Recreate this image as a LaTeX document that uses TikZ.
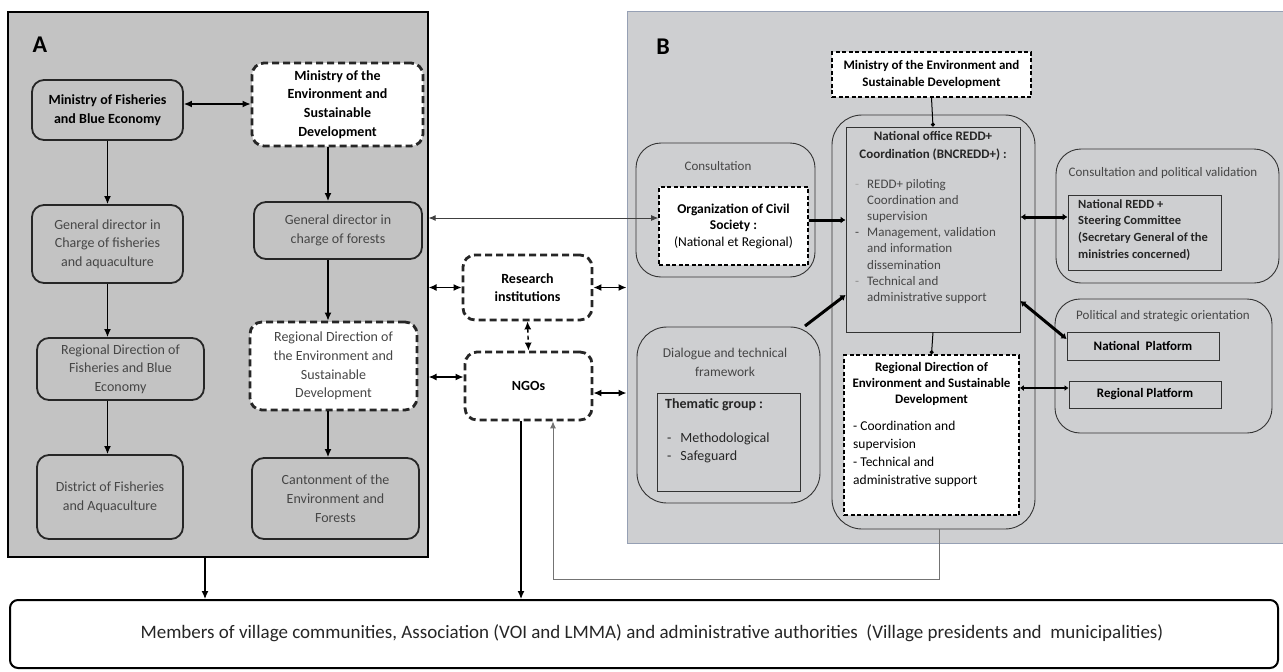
\documentclass[tikz,border=0pt]{standalone}
\usepackage{fontspec}
\setmainfont{Carlito}
\usetikzlibrary{arrows.meta}
\definecolor{cA}{RGB}{195,195,195}
\definecolor{cB}{RGB}{206,207,209}
\definecolor{tg}{RGB}{70,70,70}
\definecolor{edgeB}{RGB}{150,160,180}
\begin{document}
\begin{tikzpicture}[x=1pt,y=-1pt,
  sz/.style 2 args={minimum width=#1pt, minimum height=#2pt, inner sep=2pt},
  panelA/.style={draw=black, line width=1.2pt, fill=cA},
  panelB/.style={draw=edgeB, line width=1pt, fill=cB},
  abox/.style={draw=black!85, line width=1.8pt, rounded corners=12pt, fill=cA, align=center, text=tg, font=\fontsize{14}{18.7}\selectfont},
  aboxb/.style={abox, text=black, font=\fontsize{14}{18.7}\selectfont\bfseries},
  adash/.style={abox, fill=white, dash pattern=on 7pt off 4pt, line width=2.8pt, text=black, font=\fontsize{14}{18.7}\selectfont\bfseries},
  bround/.style={draw=black!80, line width=0.9pt, rounded corners=25pt, fill=cB},
  brect/.style={draw=black!80, line width=0.9pt, fill=cB, align=center, font=\fontsize{13}{16}\selectfont\bfseries},
  bdash/.style={draw=black, line width=1.6pt, dash pattern=on 4pt off 2.5pt, fill=white, align=center},
  lbl/.style={text=tg, align=center, inner sep=0pt},
  arr/.style={-{Latex[length=8pt,width=7pt]}, line width=1.4pt},
  darr/.style={{Latex[length=8pt,width=7pt]}-{Latex[length=8pt,width=7pt]}, line width=1.4pt},
  thdarr/.style={{Latex[length=5pt,width=7pt]}-{Latex[length=5pt,width=7pt]}, line width=3pt},
  tharr/.style={-{Latex[length=5pt,width=7pt]}, line width=3pt},
  dotarr/.style={-{Circle[length=4pt]}, line width=1pt},
  thinarr/.style={-{Latex[length=7pt,width=6pt]}, line width=0.9pt},
]
\useasboundingbox (0,0) rectangle (1283,672);
\fill[white] (0,0) rectangle (1283,672);

% panels
\node[panelA, sz={420}{545}] (pA) at (218,284.5) {};
\node[panelB, sz={656}{532}] (pB) at (955,277) {};
\node[font=\fontsize{24}{24}\selectfont\bfseries, inner sep=0pt] (lA) at (40,45) {A};
\node[font=\fontsize{24}{24}\selectfont\bfseries, inner sep=0pt] (lB) at (663,47) {B};

% panel A
\node[aboxb, sz={151}{60}] (mfb) at (107.5,110) {Ministry of Fisheries\\and Blue Economy};
\node[adash, sz={171}{83}] (mea) at (337.5,104.5) {Ministry of the\\Environment and\\Sustainable\\Development};
\node[abox, sz={151}{78}] (gd1) at (107.5,244) {General director in\\Charge of fisheries\\and aquaculture};
\node[abox, sz={168}{57}] (gdf) at (338,230.5) {General director in\\charge of forests};
\node[abox, sz={167}{62}] (rdf) at (120.5,369) {Regional Direction of\\Fisheries and Blue\\Economy};
\node[abox, sz={146}{84}] (dfa) at (110,497) {District of Fisheries\\and Aquaculture};
\node[adash, sz={167}{88}, font=\fontsize{14}{18.7}\selectfont, text=tg] (rde) at (333.5,366) {Regional Direction of\\the Environment and\\Sustainable\\Development};
\node[abox, sz={167}{81}] (cef) at (335.5,498.5) {Cantonment of the\\Environment and\\Forests};

% middle
\node[adash, sz={129}{65}] (res) at (527.5,287.5) {Research\\institutions};
\node[adash, sz={127}{68}] (ngo) at (528.5,386) {NGOs};

% bottom
\node[draw=black, line width=2pt, rounded corners=8pt, fill=white, sz={1268}{68}] (bot) at (644,634) {};
\node[inner sep=0pt, font=\fontsize{19}{22}\selectfont, text=black!85] (botT) at (652,633) {Members of village communities, Association (VOI and LMMA) and administrative authorities\ \ (Village presidents and\ \ municipalities)};

% panel B containers
\node[bround, sz={203}{414}, rounded corners=30pt] (oc) at (933.5,322) {};
\node[bround, sz={179}{134}] (cons) at (725.5,210) {};
\node[bround, sz={183}{176}, rounded corners=30pt] (dial) at (728.5,415) {};
\node[bround, sz={223}{134}] (cpv) at (1167.5,216) {};
\node[bround, sz={217}{134}] (pso) at (1163.5,366) {};

\node[bdash, sz={199}{45}, font=\fontsize{13}{17.5}\selectfont\bfseries] (mesB) at (931.5,74.5) {Ministry of the Environment and\\Sustainable Development};
\node[brect, sz={174}{205}] (no) at (933,229.5) {};
\node[bdash, sz={175}{160}] (rdB) at (931.5,435) {};
\node[bdash, sz={149}{78}, font=\fontsize{13.5}{16.5}\selectfont] (ocs) at (733.5,226) {\textbf{Organization of Civil}\\\textbf{Society :}\\(National et Regional)};
\node[brect, sz={143}{98}] (them) at (728.5,442) {};
\node[brect, sz={153}{75}] (nsc) at (1144.5,232.5) {};
\node[brect, sz={152}{28}] (np) at (1143,346) {National\ \ Platform};
\node[brect, sz={152}{27}] (rp) at (1145,394.5) {Regional Platform};

% panel B texts
\node[lbl, font=\fontsize{13}{16}\selectfont] (consL) at (718,166) {Consultation};
\node[lbl, font=\fontsize{13.5}{19}\selectfont] (dialL) at (725,362) {Dialogue and technical\\framework};
\node[lbl, font=\fontsize{13}{16}\selectfont] (cpvL) at (1163,173) {Consultation and political validation};
\node[lbl, font=\fontsize{13}{16}\selectfont] (psoL) at (1163,316) {Political and strategic orientation};

\node[lbl, text=black!85, font=\fontsize{13}{17.5}\selectfont\bfseries] (noT) at (933,146) {National office REDD+\\Coordination (BNCREDD+) :};
\node[lbl, anchor=base west, font=\fontsize{13}{16.2}\selectfont] (noL) at (855,188) {\begin{tabular}[t]{@{}l@{\hspace{8pt}}l@{}}
{\color{black!35}-} & REDD+ piloting\\
 & Coordination and\\
 & supervision\\
- & Management, validation\\
 & and information\\
 & dissemination\\
{\color{black!45}-} & Technical and\\
 & administrative support
\end{tabular}};

\node[lbl, text=black, font=\fontsize{13}{16}\selectfont\bfseries] (rdBT) at (931.5,384) {Regional Direction of\\Environment and Sustainable\\Development};
\node[lbl, text=black, anchor=base west, font=\fontsize{13.5}{18}\selectfont] (rdBL) at (853,430) {\begin{tabular}[t]{@{}l@{}}
- Coordination and\\
supervision\\
- Technical and\\
administrative support
\end{tabular}};

\node[lbl, text=black!85, anchor=base west, font=\fontsize{14}{18}\selectfont\bfseries] (themT) at (665,408) {Thematic group :};
\node[lbl, text=black!85, anchor=base west, font=\fontsize{14}{18}\selectfont] (themL) at (667,442) {\begin{tabular}[t]{@{}l@{\hspace{9pt}}l@{}}
- & Methodological\\
- & Safeguard
\end{tabular}};

\node[lbl, text=black!85, anchor=base west, font=\fontsize{12.5}{16.7}\selectfont\bfseries] (nscL) at (1078,208) {\begin{tabular}[t]{@{}l@{}}
National REDD +\\
Steering Committee\\
(Secretary General of the\\
ministries concerned)
\end{tabular}};

% coordinates
\coordinate (k1) at (0,104);
\coordinate (kx) at (328,0);
\coordinate (k2) at (0,377);
\coordinate (k3) at (0,393);
\coordinate (k4) at (0,218);
\coordinate (k5) at (205,0);
\coordinate (k6) at (521,0);
\coordinate (c1) at (939,579);
\coordinate (c2) at (553,579);
\coordinate (k4b) at (0,220);
\coordinate (k7) at (805,326);
\coordinate (k8) at (0,295);
\coordinate (k9) at (0,217);
\coordinate (k10) at (0,301);
\coordinate (k11) at (0,339);
\coordinate (k12) at (0,388);

% panel A arrows
\draw[darr] (mfb.east |- k1) -- (mea.west |- k1);
\draw[arr] (mfb.south) -- (mfb.south |- gd1.north);
\draw[arr] (gd1.south) -- (gd1.south |- rdf.north);
\draw[arr] (gd1.south |- rdf.south) -- (gd1.south |- dfa.north);
\draw[arr] (mea.south -| kx) -- (gdf.north -| kx);
\draw[arr] (gdf.south -| kx) -- (rde.north -| kx);
\draw[arr] (rde.south -| kx) -- (cef.north -| kx);

% middle arrows
\draw[darr] (pA.east |- res.west) -- (res.west);
\draw[darr] (res.east) -- (pB.west |- res.east);
\draw[darr] (pA.east |- k2) -- (ngo.west |- k2);
\draw[darr] (ngo.east |- k3) -- (pB.west |- k3);
\draw[darr, dash pattern=on 4pt off 3pt] (res.south) -- (ngo.north);
\draw[{Latex[length=7pt,width=6pt]}-{Latex[length=7pt,width=6pt]}, line width=0.9pt, draw=black!75] (pA.east |- k4) -- (ocs.west |- k4);

% to bottom
\draw[arr, line width=1.2pt] (pA.south -| k5) -- (bot.north -| k5);
\draw[arr, line width=1.2pt] (ngo.south -| k6) -- (bot.north -| k6);
\draw[thinarr, draw=black!55] (oc.south -| c1) -- (c1) -- (c2) -- (ngo.south -| c2);

% panel B arrows
\draw[dotarr] (mesB.south) -- (no.north);
\draw[dotarr] (no.south) -- (rdB.north);
\draw[tharr] (ocs.east |- k4b) -- (no.west |- k4b);
\draw[tharr] (k7) -- (no.west |- k8);
\draw[thdarr] (no.east |- k9) -- (nsc.west |- k9);
\draw[thdarr] (no.east |- k10) -- (np.west |- k11);
\draw[{Latex[length=4pt,width=6pt]}-{Latex[length=4pt,width=6pt]}, line width=2pt] (rdB.east |- k12) -- (rp.west |- k12);
\end{tikzpicture}
\end{document}
